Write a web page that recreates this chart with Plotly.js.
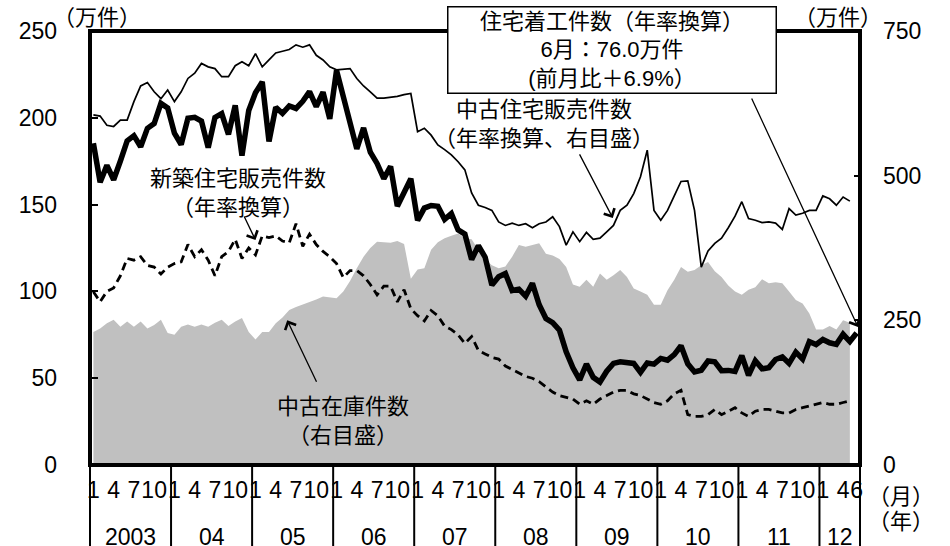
<!DOCTYPE html>
<html>
<head>
<meta charset="utf-8">
<script src="https://cdn.plot.ly/plotly-3.0.1.min.js"></script>
<style>
html,body{margin:0;padding:0;background:#fff;}
#chart{width:950px;height:546px;}
</style>
</head>
<body>
<div id="chart"></div>
<script>
// ---------------- data ----------------
const years = [2003, 2004, 2005, 2006, 2007, 2008, 2009, 2010, 2011, 2012];
const yearLabels = ['2003', '04', '05', '06', '07', '08', '09', '10', '11', '12'];
const monthsPerYear = [12, 12, 12, 12, 12, 12, 12, 12, 12, 6];
const labelledMonths = [1, 4, 7, 10];

// 住宅着工件数（年率換算, 万件, 左目盛） 2003/1 - 2012/6
const housingStarts = [
  185.3, 162.9, 172.6, 164.3, 175.1, 186.7, 189.7, 183.3, 193.9, 196.7, 208.3, 205.7,
  191.1, 184.6, 199.8, 200.3, 198.1, 182.8, 200.2, 202.4, 190.5, 207.2, 178.2, 204.2,
  214.4, 220.7, 186.4, 206.1, 202.5, 206.8, 205.4, 209.5, 215.1, 206.5, 214.7, 199.4,
  227.3, 211.9, 196.9, 182.1, 194.2, 180.2, 173.7, 165.0, 172.0, 149.1, 157.0, 164.9,
  140.9, 148.0, 149.5, 149.0, 141.5, 144.8, 135.4, 133.0, 118.3, 126.4, 119.7, 103.7,
  108.4, 110.3, 100.5, 101.3, 97.3, 104.6, 92.3, 84.4, 82.0, 77.7, 65.2, 56.0,
  49.0, 58.2, 50.5, 47.8, 54.0, 58.5, 59.4, 58.6, 58.5, 53.4, 58.8, 58.1,
  61.4, 60.4, 63.6, 68.7, 58.3, 53.6, 54.6, 59.9, 59.4, 54.3, 54.5, 53.9,
  63.0, 51.7, 60.0, 55.4, 56.1, 60.8, 62.3, 58.5, 65.0, 61.0, 71.1, 69.4,
  72.3, 70.4, 69.5, 75.3, 71.1, 76.0
];

// 新築住宅販売件数（年率換算, 万件, 左目盛） 2003/1 - 2012/5
const newHomeSales = [
  99.8, 94, 100, 102, 109, 119, 118, 120, 115, 114, 110, 114,
  116, 117, 127, 120, 124, 118, 109, 120, 123, 130, 119, 125,
  121, 132, 131, 132, 129, 128, 139, 126, 133, 127, 123, 120,
  116, 108, 112, 112, 109, 104, 98, 103, 103, 94, 101, 90,
  86, 83, 89, 86, 80, 78, 75, 70, 74, 66, 64, 62,
  61, 57, 55, 53, 51, 50, 48, 45, 42, 40, 39, 38,
  35, 37, 35, 38, 40, 42, 43, 43, 41, 40, 38, 36,
  35, 37, 41, 43, 29, 28, 28, 29, 32, 29, 31, 33,
  30, 28, 31, 32, 32, 31, 30, 30, 32, 33, 34, 35,
  36, 35, 35, 36, 37
];

// 中古住宅販売件数（年率換算, 万件, 右目盛） 2003/1 - 2012/5
const existingSales = [
  605, 603, 587, 585, 596, 596, 628, 655, 661, 645, 633, 648,
  628, 645, 668, 677, 694, 688, 685, 671, 671, 690, 697, 690,
  711, 688, 700, 712, 715, 718, 726, 722, 726, 708, 700, 688,
  683, 684, 685, 668, 655, 645, 634, 634, 635, 637, 640, 642,
  576, 582, 570, 553, 545, 536, 524, 510, 470, 449, 445, 440,
  420, 414, 418, 414, 417, 410, 417, 420, 429, 412, 380, 403,
  386, 402, 390, 392, 403, 414, 440, 449, 469, 498, 544, 440,
  423, 440, 465, 490, 491, 440, 342, 370, 383, 392, 410, 430,
  455, 426, 423, 419, 420, 418, 407, 443, 432, 435, 440, 440,
  465, 460, 449, 463, 456
];

// 中古在庫件数（万件, 右目盛） 2003/1 - 2012/5
const existingInventory = [
  230, 236, 245, 251, 239, 248, 239, 248, 236, 242, 251, 228,
  225, 239, 243, 239, 243, 239, 246, 251, 240, 248, 254, 230,
  217, 230, 230, 245, 255, 268, 273, 277, 282, 286, 291, 289,
  288, 300, 318, 340, 360, 375, 386, 385, 384, 387, 382, 322,
  338, 340, 372, 385, 392, 396, 400, 392, 390, 372, 355, 345,
  340, 343, 360, 380, 377, 380, 383, 365, 362, 356, 342, 312,
  308, 320, 308, 331, 320, 328, 337, 325, 305, 300, 294, 277,
  277, 302, 320, 342, 334, 337, 345, 351, 335, 325, 310, 300,
  294, 303, 307, 321, 314, 316, 314, 300, 285, 279, 262, 234,
  234, 240, 234, 250, 246
];

// ---------------- build ----------------
const months = [];
const monthNum = [];
years.forEach((y, i) => {
  for (let m = 1; m <= monthsPerYear[i]; m++) {
    months.push(y + '-' + String(m).padStart(2, '0'));
    monthNum.push(m);
  }
});
const tickvals = [], ticktext = [];
months.forEach((mm, i) => {
  if (labelledMonths.includes(monthNum[i]) || i === months.length - 1) {
    tickvals.push(mm); ticktext.push(String(monthNum[i]));
  }
});

const FONT = 'Liberation Sans, Arial, Noto Sans CJK JP, sans-serif';
const FS = 23;
const L = 90, R = 90, T = 31, B = 81, W = 950 - L - R, H = 546 - T - B;
const px = v => (v - L) / W;      // page x -> paper
const py = v => (T + H - v) / H;  // page y -> paper

const traces = [
  { x: months.slice(0, existingInventory.length), y: existingInventory, yaxis: 'y',
    type: 'scatter', mode: 'lines', fill: 'tozeroy', fillcolor: '#c0c0c0',
    line: { width: 0, color: '#c0c0c0' }, hoverinfo: 'skip' },
  { x: months.slice(0, existingSales.length), y: existingSales, yaxis: 'y',
    type: 'scatter', mode: 'lines', line: { width: 1.7, color: '#000' } },
  { x: months.slice(0, newHomeSales.length), y: newHomeSales, yaxis: 'y2',
    type: 'scatter', mode: 'lines', line: { width: 2.8, color: '#000', dash: '8px,5px' } },
  { x: months, y: housingStarts, yaxis: 'y2',
    type: 'scatter', mode: 'lines', line: { width: 5.5, color: '#000' } }
];

// shapes: frame + year separators
const shapes = [
  { type: 'rect', xref: 'paper', yref: 'paper', x0: 0, x1: 1, y0: 0, y1: 1,
    line: { color: '#000', width: 4 }, layer: 'above' },
  { type: 'line', xref: 'paper', yref: 'paper', x0: 0, x1: 0, y0: 0, y1: -B / H,
    line: { color: '#000', width: 2 } },
  { type: 'line', xref: 'paper', yref: 'paper', x0: 1, x1: 1, y0: 0, y1: -B / H,
    line: { color: '#000', width: 2 } }
];
let start = 0;
const yearCenters = [];
monthsPerYear.forEach((n, i) => {
  yearCenters.push(start + (n - 1) / 2);
  if (i > 0) {
    shapes.push({ type: 'line', xref: 'x', yref: 'paper', x0: start - 0.5, x1: start - 0.5,
      y0: 0, y1: -B / H, line: { color: '#000', width: 2 } });
  }
  start += n;
});

const last = housingStarts[housingStarts.length - 1];
const prev = housingStarts[housingStarts.length - 2];
const chg = ((last / prev - 1) * 100).toFixed(1);

const annotations = [];
yearLabels.forEach((t, i) => annotations.push({
  x: yearCenters[i], xref: 'x', y: py(537), yref: 'paper', text: t, showarrow: false,
  font: { size: FS }, xanchor: 'center', yanchor: 'middle'
}));
const txt = (x, y, text, extra) => Object.assign({
  x: px(x), y: py(y), xref: 'paper', yref: 'paper', text: text, showarrow: false,
  font: { size: 22 }, xanchor: 'center', yanchor: 'middle', align: 'center'
}, extra || {});
annotations.push(txt(97, 18, '（万件）'));
annotations.push(txt(838, 17, '（万件）'));
annotations.push(txt(901, 497, '（月）'));
annotations.push(txt(901, 521, '（年）'));
annotations.push(txt(238, 193, '新築住宅販売件数<br>（年率換算）'));
annotations.push(txt(544, 124, '中古住宅販売件数<br>（年率換算、右目盛）'));
annotations.push(txt(343, 421, '中古在庫件数<br>（右目盛）'));
annotations.push(txt(612, 50,
  '住宅着工件数（年率換算）<br>6月：' + last.toFixed(1) + '万件<br>(前月比＋' + chg + '%）',
  { width: 327, height: 85, bordercolor: '#000', borderwidth: 1.5, bgcolor: '#fff', borderpad: 0 }));

const arrow = (x, y, yref, ax, ay) => ({
  x: x, y: y, xref: 'x', yref: yref, ax: ax, ay: ay, text: '', showarrow: true,
  arrowhead: 4, arrowsize: 1.8, arrowwidth: 1.3, arrowcolor: '#000', standoff: 0
});
annotations.push(arrow(24, 129.6, 'y2', -12, -25));
annotations.push(arrow(76.9, 427, 'y', -34, -65));
annotations.push(arrow(28.7, 250, 'y', 30, 63));
annotations.push(arrow(113.2, 79.5, 'y2', -107, -230));

const layout = {
  width: 950, height: 546,
  margin: { l: L, r: R, t: T, b: B, pad: 0 },
  paper_bgcolor: '#fff', plot_bgcolor: '#fff',
  showlegend: false,
  font: { family: FONT, size: FS, color: '#000' },
  xaxis: {
    type: 'category', range: [-0.5, months.length - 0.5],
    tickmode: 'array', tickvals: tickvals, ticktext: ticktext, tickangle: 0,
    ticks: '', showgrid: false, zeroline: false, showline: false,
    tickfont: { size: FS }, ticklabelstandoff: 9, automargin: false
  },
  yaxis: {
    side: 'right', range: [0, 750], tickmode: 'array', tickvals: [0, 250, 500, 750],
    ticks: 'inside', ticklen: 6, tickwidth: 2, tickcolor: '#000',
    showgrid: false, zeroline: false, showline: false,
    tickfont: { size: FS }, ticklabelstandoff: 22, automargin: false
  },
  yaxis2: {
    overlaying: 'y', side: 'left', range: [0, 250], tickmode: 'array',
    tickvals: [0, 50, 100, 150, 200, 250],
    ticks: 'inside', ticklen: 8, tickwidth: 2, tickcolor: '#000',
    showgrid: false, zeroline: false, showline: false,
    tickfont: { size: FS }, ticklabelstandoff: 32, automargin: false
  },
  shapes: shapes,
  annotations: annotations
};

Plotly.newPlot('chart', traces, layout, { staticPlot: true, displayModeBar: false });
</script>
</body>
</html>
